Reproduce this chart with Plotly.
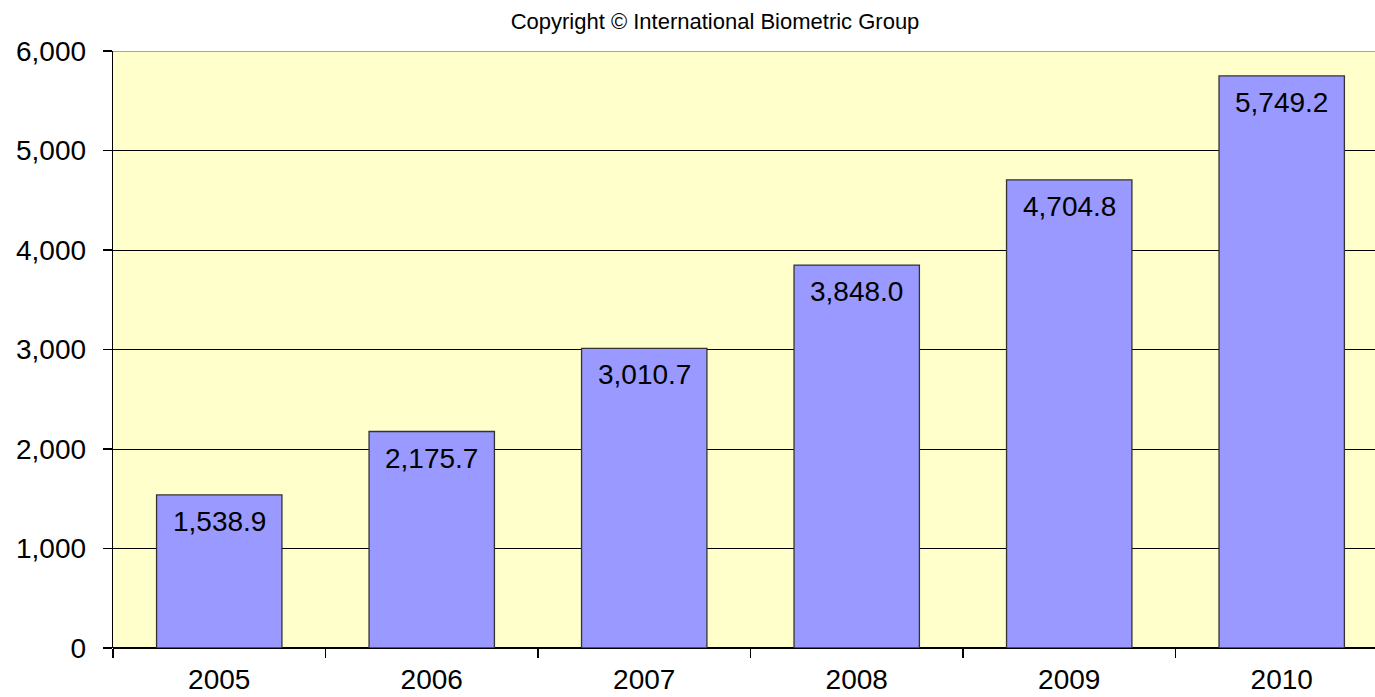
import plotly.graph_objects as go

years = ["2005", "2006", "2007", "2008", "2009", "2010"]
values = [1538.9, 2175.7, 3010.7, 3848.0, 4704.8, 5749.2]
labels = ["1,538.9", "2,175.7", "3,010.7", "3,848.0", "4,704.8", "5,749.2"]
y_ticks = [0, 1000, 2000, 3000, 4000, 5000, 6000]
y_tick_text = ["0", "1,000", "2,000", "3,000", "4,000", "5,000", "6,000"]

FONT = "Arial, Liberation Sans, sans-serif"
xs = list(range(len(years)))

fig = go.Figure(go.Bar(
    x=xs,
    y=values,
    marker=dict(color="#9999FF", line=dict(color="#333333", width=1.3)),
    width=0.59,
    hoverinfo="skip",
))

for xi, v, t in zip(xs, values, labels):
    fig.add_annotation(x=xi, y=v, text=t, showarrow=False,
                       xanchor="center", yanchor="top", yshift=-9,
                       font=dict(family=FONT, size=28, color="#000000"))

fig.update_layout(
    width=1375, height=697,
    margin=dict(l=113, r=0, t=51, b=49, autoexpand=False),
    paper_bgcolor="#FFFFFF",
    plot_bgcolor="#FFFFCC",
    showlegend=False,
    title=dict(text="Copyright © International Biometric Group",
               x=0.52, xanchor="center", y=0.97, yanchor="middle",
               font=dict(family=FONT, size=22, color="#000000")),
    xaxis=dict(
        range=[-0.5, 5.439],
        tickmode="array", tickvals=xs, ticktext=years,
        showgrid=False, zeroline=False,
        showline=False,
        ticks="",
        automargin=False,
        tickfont=dict(family=FONT, size=28, color="#000000"),
        fixedrange=True,
        minor=dict(tickmode="array", tickvals=[i - 0.5 for i in range(len(years) + 1)],
                   ticks="outside", ticklen=9, tickcolor="#000000", tickwidth=1.3,
                   showgrid=False),
        ticklabelstandoff=12,
    ),
    yaxis=dict(
        range=[0, 6000],
        tickmode="array", tickvals=y_ticks, ticktext=y_tick_text,
        showgrid=True, gridcolor="#000000", gridwidth=1,
        zeroline=True, zerolinecolor="#000000", zerolinewidth=1.3,
        showline=True, linecolor="#000000", linewidth=1.3,
        ticks="outside", ticklen=9, tickcolor="#000000", tickwidth=1.3,
        ticklabelstandoff=11,
        automargin=False,
        tickfont=dict(family=FONT, size=28, color="#000000"),
        fixedrange=True,
    ),
)

# grey top border of plot area
fig.add_shape(type="line", xref="paper", yref="y", x0=0, x1=1, y0=6000, y1=6000,
              line=dict(color="#888888", width=1.3), layer="above")

fig.write_html(
    "out.html",
    config={"displayModeBar": False, "staticPlot": True},
    post_script="document.body.style.margin='0';document.body.style.overflow='hidden';",
)
